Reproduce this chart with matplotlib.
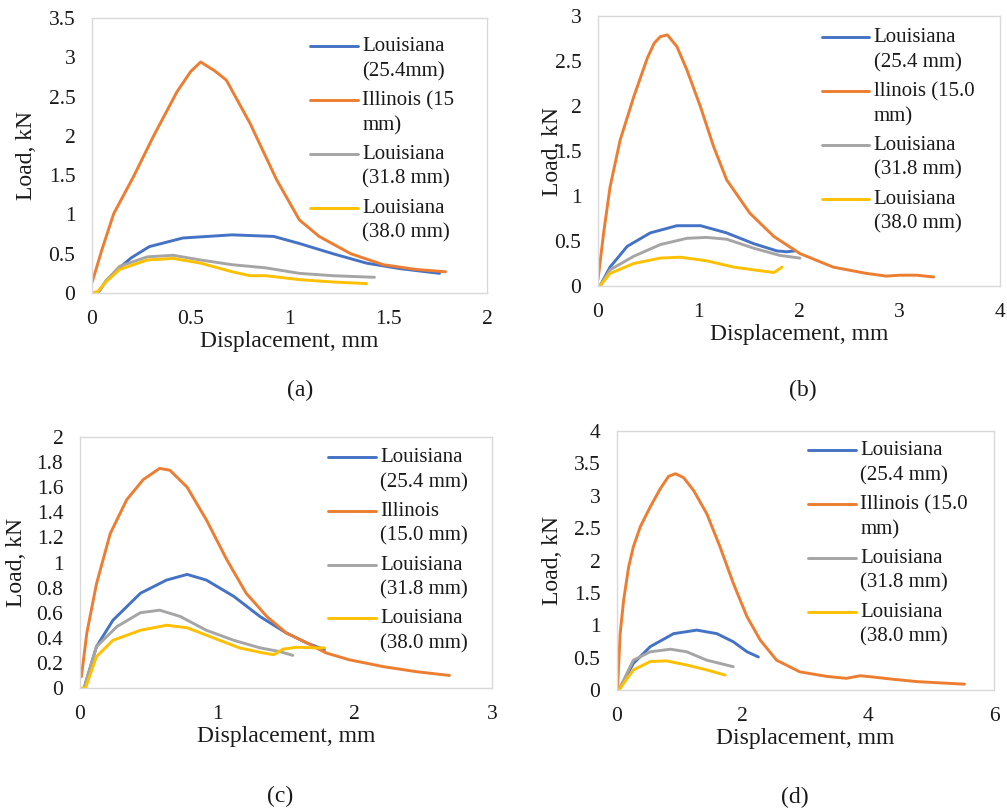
import numpy as np
import matplotlib
matplotlib.use("Agg")
import matplotlib.pyplot as plt
from matplotlib.legend_handler import HandlerLine2D
from matplotlib.lines import Line2D
from matplotlib.ticker import FuncFormatter, MultipleLocator

plt.rcParams['font.family'] = ['Liberation Serif', 'DejaVu Serif']

BLUE, ORANGE, GRAY, YELLOW = '#4472C4', '#ED7D31', '#A5A5A5', '#FFC000'

# ---------------- panel (a) ----------------
A_LA254_X = [0.03, 0.07, 0.125, 0.20, 0.29, 0.46, 0.71, 0.92, 1.05, 1.22, 1.39, 1.56, 1.76]
A_LA254_Y = [0.00, 0.15, 0.29, 0.45, 0.59, 0.70, 0.74, 0.72, 0.63, 0.50, 0.38, 0.31, 0.25]
A_IL_X = [0.0, 0.05, 0.11, 0.21, 0.31, 0.43, 0.50, 0.55, 0.62, 0.68, 0.80, 0.935, 1.05, 1.15, 1.31, 1.475, 1.64, 1.79]
A_IL_Y = [0.13, 0.55, 1.01, 1.48, 1.99, 2.56, 2.82, 2.94, 2.83, 2.71, 2.16, 1.44, 0.93, 0.72, 0.50, 0.36, 0.30, 0.27]
A_LA318_X = [0.03, 0.07, 0.14, 0.28, 0.41, 0.55, 0.71, 0.88, 1.05, 1.22, 1.43]
A_LA318_Y = [0.00, 0.15, 0.34, 0.46, 0.48, 0.42, 0.36, 0.32, 0.25, 0.22, 0.20]
A_LA380_X = [0.0, 0.03, 0.07, 0.14, 0.28, 0.41, 0.55, 0.71, 0.80, 0.88, 1.05, 1.22, 1.39]
A_LA380_Y = [0.0, 0.02, 0.14, 0.30, 0.42, 0.44, 0.38, 0.27, 0.22, 0.22, 0.17, 0.14, 0.12]
A_LABELS = ['Louisiana\n(25.4mm)', 'Illinois (15\nmm)', 'Louisiana\n(31.8 mm)', 'Louisiana\n(38.0 mm)']

# ---------------- panel (b) ----------------
B_LA254_X = [0.02, 0.12, 0.29, 0.52, 0.785, 1.02, 1.28, 1.55, 1.78, 1.88, 1.96]
B_LA254_Y = [0.00, 0.21, 0.44, 0.59, 0.67, 0.67, 0.59, 0.47, 0.39, 0.38, 0.39]
B_IL_X = [0.0, 0.056, 0.12, 0.22, 0.355, 0.49, 0.56, 0.62, 0.69, 0.785, 0.885, 1.02, 1.15, 1.28, 1.51, 1.75, 2.01, 2.34, 2.67, 2.87, 3.0, 3.17, 3.34]
B_IL_Y = [0.07, 0.59, 1.10, 1.62, 2.10, 2.53, 2.70, 2.77, 2.79, 2.66, 2.40, 1.99, 1.55, 1.18, 0.81, 0.55, 0.36, 0.21, 0.14, 0.11, 0.12, 0.12, 0.10]
B_LA318_X = [0.02, 0.12, 0.355, 0.62, 0.885, 1.08, 1.28, 1.55, 1.81, 2.01]
B_LA318_Y = [0.00, 0.18, 0.33, 0.46, 0.53, 0.54, 0.52, 0.42, 0.34, 0.31]
B_LA380_X = [0.02, 0.12, 0.355, 0.62, 0.82, 1.08, 1.35, 1.61, 1.75, 1.78, 1.83]
B_LA380_Y = [0.00, 0.14, 0.25, 0.31, 0.32, 0.28, 0.21, 0.17, 0.15, 0.17, 0.21]
B_LABELS = ['Louisiana\n(25.4 mm)', 'llinois (15.0\nmm)', 'Louisiana\n(31.8 mm)', 'Louisiana\n(38.0 mm)']

# ---------------- panel (c) ----------------
C_LA254_X = [0.03, 0.12, 0.24, 0.44, 0.63, 0.78, 0.92, 1.12, 1.31, 1.50, 1.65, 1.78]
C_LA254_Y = [0.00, 0.33, 0.54, 0.755, 0.86, 0.905, 0.86, 0.73, 0.57, 0.44, 0.36, 0.305]
C_IL_X = [0.01, 0.05, 0.12, 0.22, 0.34, 0.46, 0.58, 0.655, 0.78, 0.92, 1.07, 1.21, 1.36, 1.50, 1.65, 1.79, 1.96, 2.21, 2.45, 2.69]
C_IL_Y = [0.09, 0.44, 0.83, 1.23, 1.50, 1.66, 1.75, 1.735, 1.60, 1.34, 1.02, 0.755, 0.57, 0.44, 0.36, 0.28, 0.225, 0.17, 0.13, 0.10]
C_LA318_X = [0.03, 0.12, 0.27, 0.44, 0.58, 0.73, 0.92, 1.12, 1.31, 1.455, 1.55]
C_LA318_Y = [0.00, 0.33, 0.49, 0.60, 0.62, 0.57, 0.46, 0.38, 0.32, 0.29, 0.26]
C_LA380_X = [0.0, 0.04, 0.12, 0.24, 0.44, 0.63, 0.78, 0.97, 1.16, 1.33, 1.41, 1.48, 1.58, 1.70, 1.78]
C_LA380_Y = [0.0, 0.0, 0.25, 0.38, 0.46, 0.50, 0.48, 0.40, 0.32, 0.28, 0.265, 0.31, 0.325, 0.32, 0.32]
C_LABELS = ['Louisiana\n(25.4 mm)', 'Illinois\n(15.0 mm)', 'Louisiana\n(31.8 mm)', 'Louisiana\n(38.0 mm)']

# ---------------- panel (d) ----------------
D_LA254_X = [0.03, 0.26, 0.53, 0.90, 1.27, 1.59, 1.85, 2.07, 2.25]
D_LA254_Y = [0.00, 0.41, 0.67, 0.87, 0.925, 0.87, 0.745, 0.59, 0.51]
D_IL_X = [0.01, 0.05, 0.106, 0.185, 0.26, 0.37, 0.53, 0.69, 0.82, 0.93, 1.06, 1.22, 1.43, 1.64, 1.85, 2.07, 2.28, 2.54, 2.91, 3.34, 3.65, 3.87, 4.08, 4.40, 4.77, 5.14, 5.53]
D_IL_Y = [0.05, 0.87, 1.39, 1.90, 2.21, 2.52, 2.83, 3.11, 3.30, 3.34, 3.28, 3.08, 2.72, 2.21, 1.65, 1.13, 0.77, 0.46, 0.28, 0.21, 0.18, 0.22, 0.20, 0.165, 0.13, 0.11, 0.09]
D_LA318_X = [0.03, 0.26, 0.53, 0.85, 1.11, 1.43, 1.85]
D_LA318_Y = [0.00, 0.46, 0.59, 0.63, 0.59, 0.46, 0.36]
D_LA380_X = [0.03, 0.26, 0.53, 0.79, 1.11, 1.43, 1.72]
D_LA380_Y = [0.00, 0.31, 0.44, 0.45, 0.385, 0.31, 0.23]
D_LABELS = ['Louisiana\n(25.4 mm)', 'Illinois (15.0\nmm)', 'Louisiana\n(31.8 mm)', 'Louisiana\n(38.0 mm)']

W, H = 1007, 810
fig = plt.figure(figsize=(W / 100, H / 100), dpi=100)


class UpHandler(HandlerLine2D):
    """Place the legend line next to the first line of a two-line label."""
    def create_artists(self, legend, orig_handle, xdescent, ydescent, width, height, fontsize, trans):
        arts = super().create_artists(legend, orig_handle, xdescent, ydescent, width, height, fontsize, trans)
        for a in arts:
            if isinstance(a, Line2D):
                a.set_ydata(np.asarray(a.get_ydata()) + 0.6 * fontsize)
        return arts


def panel(px_box, xlim, xstep, ylim, ystep, series, labels, leg_pos, ylab_x, caption_xy):
    x0, y0, x1, y1 = px_box
    ax = fig.add_axes([x0 / W, 1 - y1 / H, (x1 - x0) / W, (y1 - y0) / H])
    handles = []
    for (xs, ys), c in zip(series, [BLUE, ORANGE, GRAY, YELLOW]):
        h, = ax.plot(xs, ys, color=c, lw=2.1, solid_capstyle='round', solid_joinstyle='round')
        handles.append(h)
    ax.set_xlim(*xlim)
    ax.set_ylim(*ylim)
    ax.xaxis.set_major_locator(MultipleLocator(xstep))
    ax.yaxis.set_major_locator(MultipleLocator(ystep))
    fmt = FuncFormatter(lambda v, p: f'{v:g}')
    ax.xaxis.set_major_formatter(fmt)
    ax.yaxis.set_major_formatter(fmt)
    ax.tick_params(axis='both', length=0, labelsize=15.5, colors='#1a1a1a')
    ax.tick_params(axis='x', pad=12)
    ax.tick_params(axis='y', pad=12)
    for s in ax.spines.values():
        s.set_color('#D9D9D9')
        s.set_linewidth(1.0)
    ax.set_xlabel('Displacement, mm', fontsize=17, color='#1a1a1a', labelpad=2)
    ax.set_ylabel('Load, kN', fontsize=17, color='#1a1a1a', va='center')
    ax.yaxis.set_label_coords(ylab_x, 0.5)
    leg = ax.legend(handles, labels, loc='upper left', bbox_to_anchor=leg_pos,
                    frameon=False, fontsize=15, borderpad=0, handlelength=2.3,
                    handletextpad=0.2, labelspacing=0.47, borderaxespad=0,
                    handler_map={Line2D: UpHandler()})
    for t in leg.get_texts():
        t.set_linespacing(1.4)
        t.set_color('#1a1a1a')
    fig.text(caption_xy[0] / W, 1 - caption_xy[1] / H, caption_xy[2], fontsize=17,
             ha='center', va='center', color='#1a1a1a')
    return ax


panel((92, 18, 487, 293), (0, 2), 0.5, (0, 3.5), 0.5,
      [(A_LA254_X, A_LA254_Y), (A_IL_X, A_IL_Y), (A_LA318_X, A_LA318_Y), (A_LA380_X, A_LA380_Y)],
      A_LABELS, (0.552, 0.93), -0.165, (300, 390, '(a)'))
panel((598, 16, 1000, 286), (0, 4), 1, (0, 3), 0.5,
      [(B_LA254_X, B_LA254_Y), (B_IL_X, B_IL_Y), (B_LA318_X, B_LA318_Y), (B_LA380_X, B_LA380_Y)],
      B_LABELS, (0.556, 0.955), -0.112, (803, 390, '(b)'))
panel((80, 437, 492, 688), (0, 3), 1, (0, 2), 0.2,
      [(C_LA254_X, C_LA254_Y), (C_IL_X, C_IL_Y), (C_LA318_X, C_LA318_Y), (C_LA380_X, C_LA380_Y)],
      C_LABELS, (0.602, 0.956), -0.155, (280, 796, '(c)'))
panel((617, 431, 994, 690), (0, 6), 2, (0, 4), 0.5,
      [(D_LA254_X, D_LA254_Y), (D_IL_X, D_IL_Y), (D_LA318_X, D_LA318_Y), (D_LA380_X, D_LA380_Y)],
      D_LABELS, (0.507, 0.961), -0.17, (795, 797, '(d)'))

fig.savefig('out.png', dpi=100, facecolor='white')
